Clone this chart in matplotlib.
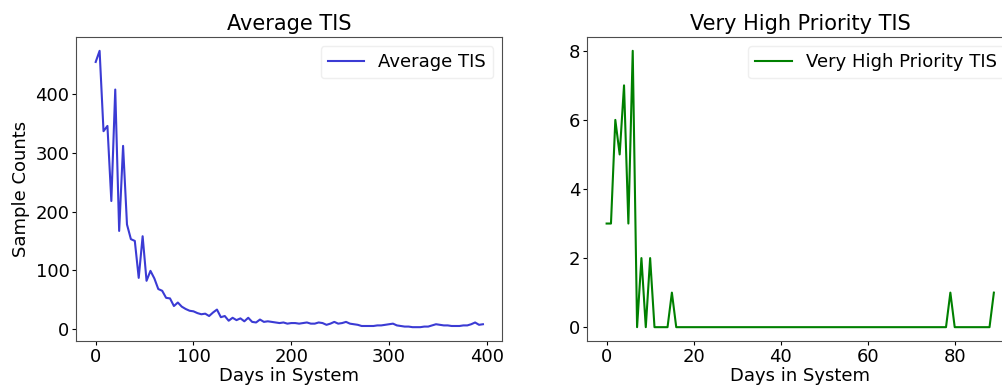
import numpy as np
import matplotlib
matplotlib.use("Agg")
import matplotlib.pyplot as plt

# average TIS, sampled every 4 days
avg_days = np.arange(0, 397, 4)
avg_counts = [455, 474, 337, 346, 218, 408, 167, 312, 178, 153,
              150, 87, 158, 82, 99, 86, 68, 65, 53, 52,
              39, 45, 38, 34, 31, 30, 27, 25, 26, 22,
              28, 33, 20, 22, 14, 19, 15, 18, 13, 19,
              12, 11, 16, 12, 13, 12, 11, 10, 11, 9,
              10, 10, 9, 10, 11, 9, 9, 11, 10, 7,
              9, 12, 9, 10, 12, 9, 8, 7, 5, 5,
              5, 5, 6, 6, 7, 8, 9, 6, 5, 4,
              4, 3, 3, 3, 4, 4, 6, 8, 7, 6,
              6, 5, 5, 5, 6, 6, 8, 11, 7, 8]

# very high priority TIS, daily
vh_days = np.arange(0, 90)
vh_counts = [3, 3, 6, 5, 7, 3, 8, 0, 2, 0, 2, 0] + [0] * 78
vh_counts[15] = 1
vh_counts[79] = 1
vh_counts[89] = 1

fig = plt.figure(figsize=(10.03, 3.87), dpi=100)
ax1 = fig.add_axes([0.0761, 0.1189, 0.4247, 0.7855])
ax2 = fig.add_axes([0.5855, 0.1189, 0.4247, 0.7855])

ax1.plot(avg_days, avg_counts, color="#3b3bd4", lw=1.5, label="Average TIS")
ax1.set_title("Average TIS", fontsize=15, pad=5)
ax1.set_xlabel("Days in System", fontsize=13, labelpad=1)
ax1.set_ylabel("Sample Counts", fontsize=13)
ax1.set_xticks([0, 100, 200, 300, 400])
ax1.set_yticks([0, 100, 200, 300, 400])
leg1 = ax1.legend(loc="upper right", fontsize=13)

ax2.plot(vh_days, vh_counts, color="green", lw=1.5, label="Very High Priority TIS")
ax2.set_title("Very High Priority TIS", fontsize=15, pad=5)
ax2.set_xlabel("Days in System", fontsize=13, labelpad=1)
ax2.set_xticks([0, 20, 40, 60, 80])
ax2.set_yticks([0, 2, 4, 6, 8])
leg2 = ax2.legend(loc="upper right", fontsize=13)

for leg in (leg1, leg2):
    leg.get_frame().set_edgecolor("0.92")

for ax in (ax1, ax2):
    ax.tick_params(labelsize=13, length=3, pad=2)
    for s in ax.spines.values():
        s.set_edgecolor("0.3")

fig.savefig("out.png", dpi=100)
